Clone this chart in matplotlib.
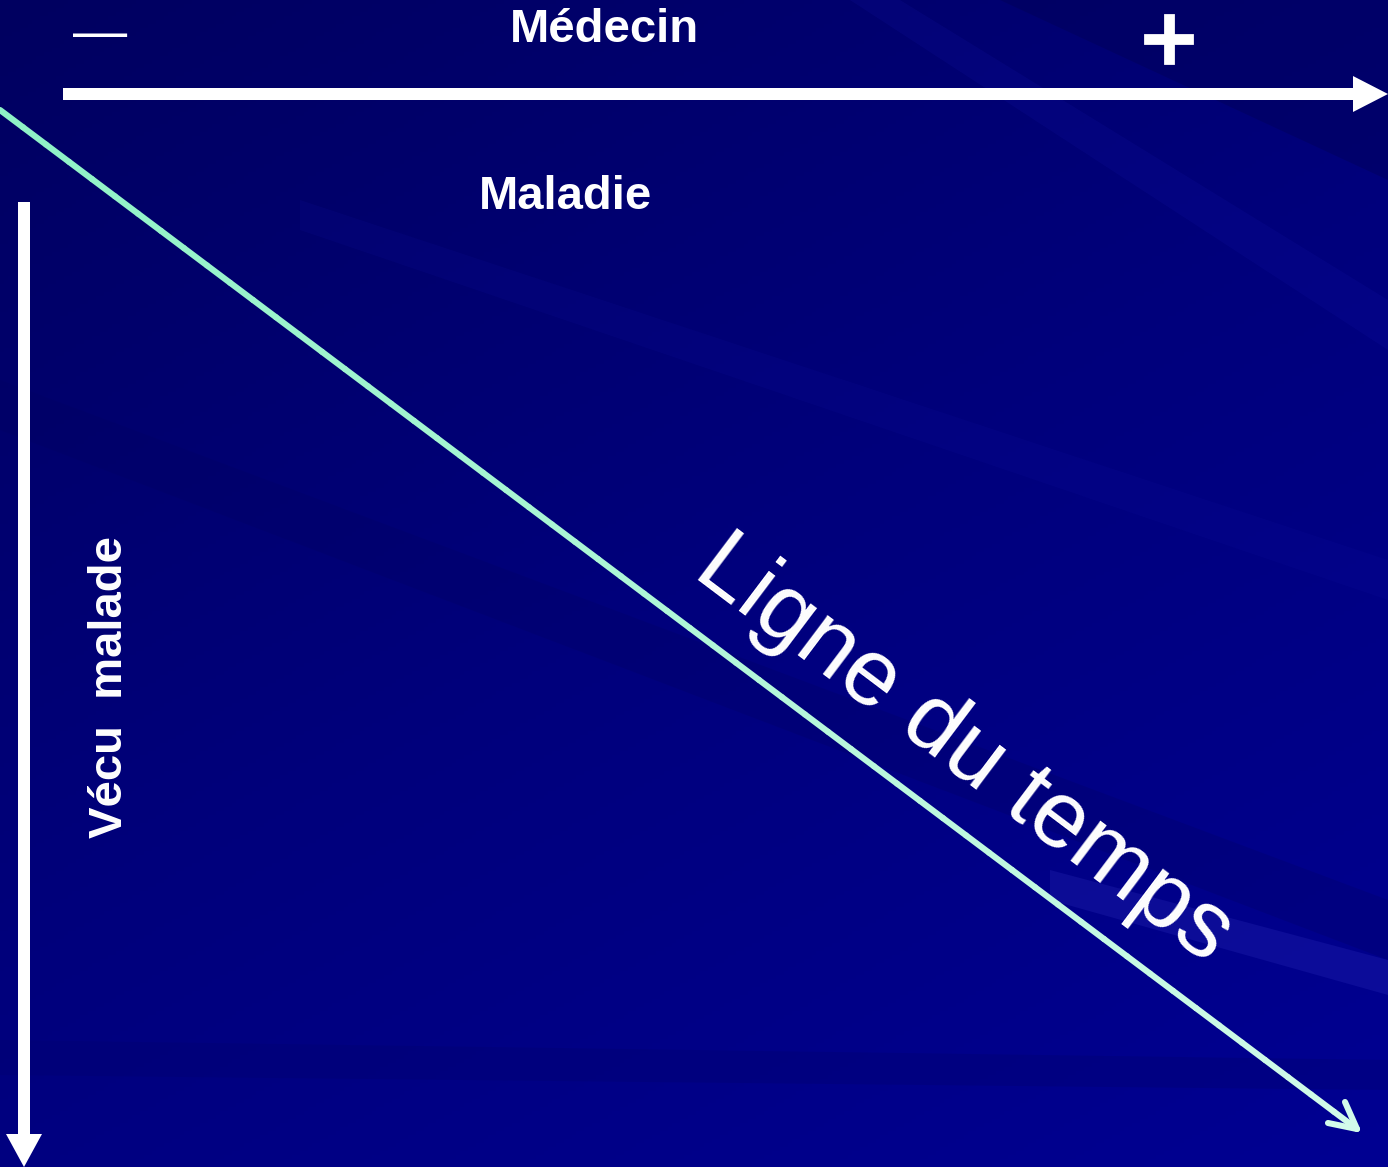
import numpy as np
import matplotlib
matplotlib.use("Agg")
import matplotlib.pyplot as plt
import matplotlib.patheffects as pe
from matplotlib.collections import LineCollection
from matplotlib.colors import LinearSegmentedColormap

# labels of the diagram
top_label = "Médecin"
top_left_sign = "—"
top_right_sign = "+"
sub_label = "Maladie"
side_label = "Vécu  malade"
diag_label = "Ligne du temps"

W, H = 1388, 1167
plt.rcParams['font.family'] = ['Liberation Sans', 'DejaVu Sans']

fig = plt.figure(figsize=(W / 100, H / 100), dpi=100)
ax = fig.add_axes([0, 0, 1, 1])
ax.set_xlim(0, W)
ax.set_ylim(H, 0)
ax.axis("off")

# background: dark navy gradient, lighter towards bottom right
yy, xx = np.mgrid[0:H:4, 0:W:4]
g = 0.6 * (yy / H) + 0.4 * (xx / W)
bg = LinearSegmentedColormap.from_list("bg", ["#000060", "#00007c", "#000092"])
ax.imshow(g, cmap=bg, extent=[0, W, H, 0], aspect="auto", zorder=0)

# faint diagonal streaks
streaks = [
    ([(700, 0), (1388, 0), (1388, 180), (1000, 0)], "#000050", 0.35),
    ([(0, 380), (1388, 900), (1388, 960), (0, 430)], "#000060", 0.25),
    ([(1050, 870), (1388, 960), (1388, 995), (1050, 900)], "#3030c0", 0.25),
    ([(0, 1040), (1388, 1060), (1388, 1090), (0, 1075)], "#000070", 0.35),
    ([(300, 200), (1388, 560), (1388, 600), (300, 230)], "#1010a0", 0.15),
    ([(900, 0), (1388, 300), (1388, 350), (850, 0)], "#1818b0", 0.15),
]
for pts, col, a in streaks:
    ax.add_patch(plt.Polygon(pts, closed=True, color=col, alpha=a, lw=0, zorder=1))

# horizontal arrow (Médecin axis)
ax.arrow(63, 94, W - 63, 0, width=12, head_width=36, head_length=35,
         length_includes_head=True, color="white", lw=0, zorder=3)
# vertical arrow (Vécu malade axis)
ax.arrow(24, 202, 0, H - 202, width=12, head_width=36, head_length=33,
         length_includes_head=True, color="white", lw=0, zorder=3)

# diagonal time line with a light mint gradient
x0, y0, x1, y1 = 0, 110, 1357, 1129
t = np.linspace(0, 1, 60)
px = x0 + (x1 - x0) * t
py = y0 + (y1 - y0) * t
segs = np.stack([np.column_stack([px[:-1], py[:-1]]),
                 np.column_stack([px[1:], py[1:]])], axis=1)
mint = LinearSegmentedColormap.from_list("mint", ["#8ef2c6", "#d2fbea"])
lc = LineCollection(segs, colors=mint(t[:-1]), linewidths=4.4,
                    capstyle="round", zorder=3)
ax.add_collection(lc)
# open chevron head
ax.plot([1328, x1, 1345], [1123, y1, 1102], color="#d2fbea", lw=4.4,
        solid_capstyle="round", solid_joinstyle="round", zorder=3)

# texts
ax.text(100, 35, top_left_sign, color="white", fontsize=39, ha="center",
        va="center", zorder=4)
ax.text(604, 30, top_label, color="white", fontsize=34, fontweight="bold",
        ha="center", va="center", zorder=4)
ax.text(1169, 42, top_right_sign, color="white", fontsize=54, fontweight="bold",
        family="DejaVu Sans", ha="center", va="center", zorder=4,
        path_effects=[pe.withStroke(linewidth=2, foreground="white",
                                    capstyle="butt", joinstyle="miter")])
ax.text(566, 197, sub_label, color="white", fontsize=34, fontweight="bold",
        ha="center", va="center", zorder=4)
ax.text(110, 687, side_label, color="white", fontsize=34, fontweight="bold",
        ha="center", va="center", rotation=90, zorder=4)
ax.text(964, 750, diag_label, color="white", fontsize=68, ha="center",
        va="center", rotation=-37, rotation_mode="anchor", zorder=4)

fig.savefig("out.png", dpi=100)
